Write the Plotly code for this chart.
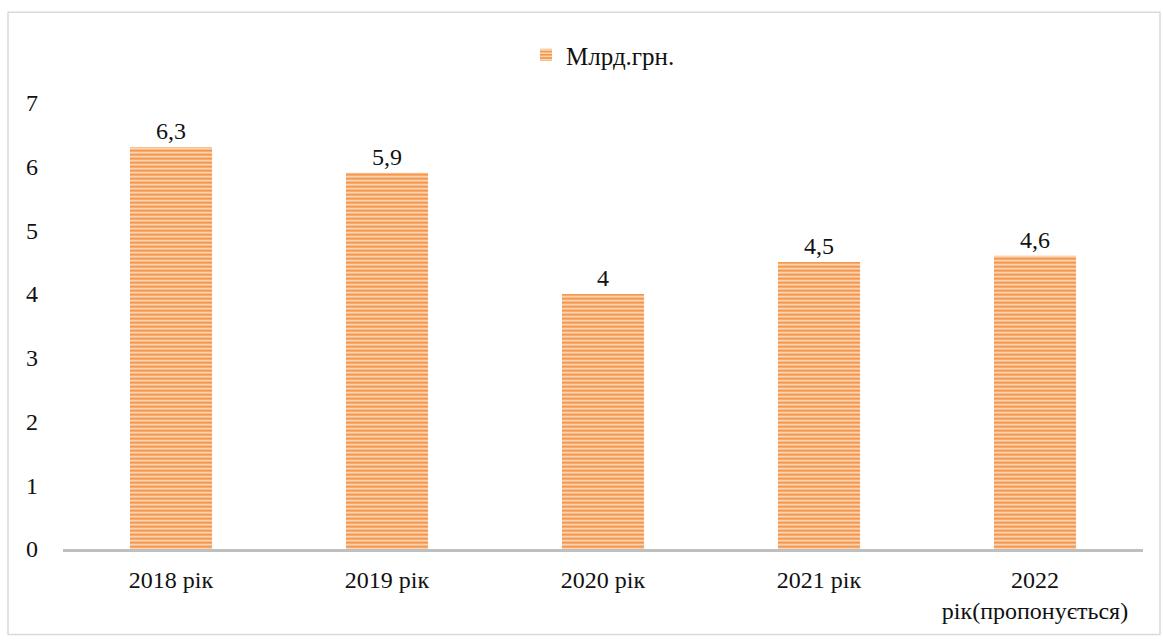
import plotly.graph_objects as go

categories = ["2018 рік", "2019 рік", "2020 рік", "2021 рік", "2022<br>рік(пропонується)"]
values = [6.3, 5.9, 4.0, 4.5, 4.6]
labels = ["6,3", "5,9", "4", "4,5", "4,6"]
series_name = "Млрд.грн."

FONT = "Liberation Serif, Times New Roman, serif"
FS = 24

fig = go.Figure()
fig.add_trace(go.Bar(
    x=categories, y=values, name=series_name,
    text=labels, textposition="outside", cliponaxis=False,
    textfont=dict(family=FONT, size=FS, color="#111111"),
    marker=dict(color="#F5964A", line=dict(width=0),
                pattern=dict(shape="-", bgcolor="#F5964A", fgcolor="#FDE3CB",
                             size=4, solidity=0.4, fillmode="replace")),
    width=0.38,
))

fig.update_layout(
    width=1163, height=640,
    paper_bgcolor="white", plot_bgcolor="white",
    margin=dict(l=63, r=20, t=100, b=91),
    font=dict(family=FONT, size=FS, color="#111111"),
    showlegend=True,
    legend=dict(orientation="h", x=0.5, xanchor="center", y=0.914, yanchor="middle",
                yref="container", font=dict(family=FONT, size=25, color="#111111"),
                itemwidth=30),
    separators=",.",
    xaxis=dict(showline=True, linecolor="#BFBFBF", linewidth=3, ticks="",
               tickfont=dict(family=FONT, size=FS), showgrid=False,
               ticklabelstandoff=7),
    yaxis=dict(range=[0, 7], dtick=1, showgrid=False, showline=False, ticks="",
               zeroline=False, tickfont=dict(family=FONT, size=FS), ticklabelstandoff=24),
)
# figure border
fig.add_shape(type="rect", xref="paper", yref="paper",
              x0=(8-63)/1080, x1=(1160-63)/1080, y0=(640-635-91)/449, y1=(640-9-91)/449,
              line=dict(color="#D9D9D9", width=1.5), layer="below")

fig.write_html("out.html")
